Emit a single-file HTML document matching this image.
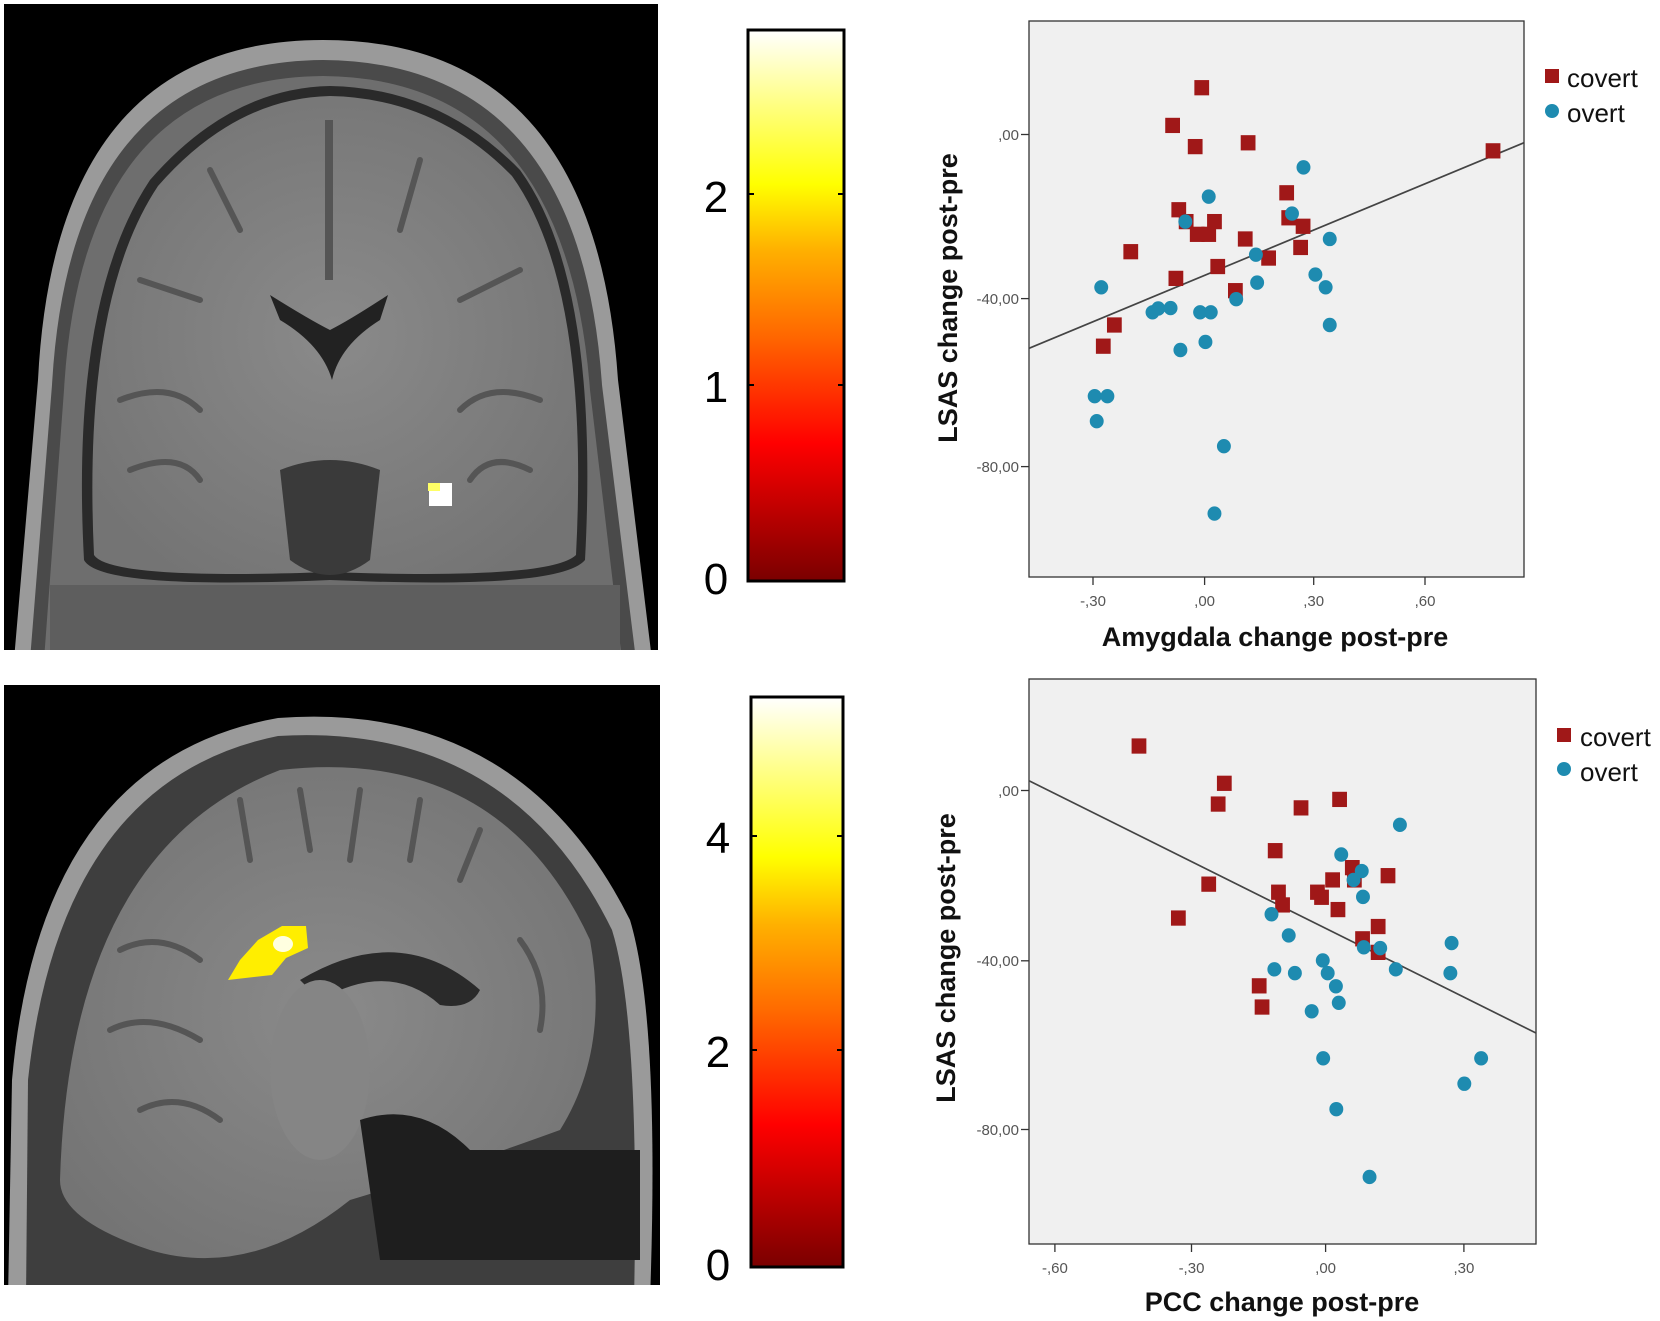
<!DOCTYPE html>
<html><head><meta charset="utf-8"><style>
html,body{margin:0;padding:0;background:#fff;}
svg{display:block;}
text{font-family:"Liberation Sans",sans-serif;}
</style></head><body>
<svg width="1660" height="1321" viewBox="0 0 1660 1321" xmlns="http://www.w3.org/2000/svg">
<defs>
<linearGradient id="cb" x1="0" y1="1" x2="0" y2="0">
<stop offset="0" stop-color="#7a0000"/>
<stop offset="0.25" stop-color="#ff0000"/>
<stop offset="0.45" stop-color="#ff6a00"/>
<stop offset="0.6" stop-color="#ffb000"/>
<stop offset="0.72" stop-color="#ffff00"/>
<stop offset="0.88" stop-color="#ffff90"/>
<stop offset="1" stop-color="#ffffff"/>
</linearGradient>
<radialGradient id="br" cx="0.5" cy="0.5" r="0.6">
<stop offset="0" stop-color="#8a8a8a"/>
<stop offset="1" stop-color="#747474"/>
</radialGradient>
<clipPath id="c1"><rect x="4" y="4" width="654" height="646"/></clipPath>
<clipPath id="c2"><rect x="4" y="685" width="656" height="600"/></clipPath>
</defs>

<!-- Coronal brain -->
<rect x="4" y="4" width="654" height="646" fill="#000"/>
<g clip-path="url(#c1)">
<path d="M14 660 L38 380 Q55 40 323 40 Q595 40 618 380 L652 660 Z" fill="#9a9a9a"/>
<path d="M30 660 L52 385 Q70 62 323 60 Q580 62 602 385 L636 660 Z" fill="#4a4a4a"/>
<path d="M44 660 L64 390 Q82 78 323 76 Q566 78 590 390 L622 660 Z" fill="#6e6e6e"/>
<path d="M84 560 Q70 300 150 180 Q230 88 330 86 Q440 88 520 170 Q600 280 585 560 Q560 590 330 580 Q100 590 84 560 Z" fill="#2a2a2a"/>
<path d="M94 555 Q82 300 158 186 Q235 98 330 96 Q436 98 512 176 Q590 285 576 555 Q550 580 330 572 Q110 580 94 555 Z" fill="url(#br)"/>
<g stroke="#555" stroke-width="6" fill="none" stroke-linecap="round">
<path d="M210 170 L240 230"/><path d="M420 160 L400 230"/><path d="M140 280 L200 300"/><path d="M520 270 L460 300"/>
<path d="M120 400 Q170 380 200 410"/><path d="M540 400 Q490 380 460 410"/><path d="M130 470 Q180 450 200 480"/><path d="M530 470 Q490 450 470 480"/>
</g>
<rect x="50" y="585" width="570" height="70" fill="#5e5e5e"/>
<path d="M270 295 Q310 320 330 330 Q350 320 388 295 L380 320 Q340 345 332 380 Q322 345 280 320 Z" fill="#222"/>
<rect x="325" y="120" width="8" height="160" fill="#555"/>
<path d="M280 470 Q330 450 380 470 L370 560 Q330 590 290 560 Z" fill="#3a3a3a"/>
<rect x="429" y="483" width="23" height="23" fill="#fff"/>
<rect x="428" y="483" width="12" height="8" fill="#ffff66"/>
</g>

<!-- Sagittal brain -->
<rect x="4" y="685" width="656" height="600" fill="#000"/>
<g clip-path="url(#c2)">
<path d="M8 1300 L12 1080 Q40 760 278 718 Q520 700 630 920 Q660 1020 650 1300 Z" fill="#9a9a9a"/>
<path d="M26 1300 L28 1080 Q60 780 278 736 Q510 722 612 930 Q640 1020 634 1300 Z" fill="#3e3e3e"/>
<path d="M60 1180 Q70 850 280 770 Q500 745 590 940 Q610 1050 560 1130 Q450 1170 350 1200 Q250 1280 150 1250 Q60 1220 60 1180 Z" fill="url(#br)"/>
<g stroke="#555" stroke-width="6" fill="none" stroke-linecap="round">
<path d="M240 800 L250 860"/><path d="M300 790 L310 850"/><path d="M360 790 L350 860"/><path d="M420 800 L410 860"/><path d="M480 830 L460 880"/>
<path d="M120 950 Q160 930 200 960"/><path d="M110 1030 Q150 1010 200 1040"/><path d="M140 1110 Q180 1090 220 1120"/><path d="M520 940 Q550 980 540 1030"/>
</g>
<path d="M300 980 Q400 920 480 990 Q470 1010 440 1005 Q390 960 320 1000 Z" fill="#2a2a2a"/>
<ellipse cx="320" cy="1070" rx="50" ry="90" fill="#858585"/>
<path d="M360 1120 Q420 1100 470 1150 L640 1150 L640 1260 L380 1260 Z" fill="#1e1e1e"/>
<path d="M240 960 L258 940 L282 926 L306 926 L308 948 L286 958 L272 975 L228 980 Z" fill="#ffee00"/>
<ellipse cx="283" cy="944" rx="10" ry="8" fill="#ffffe0"/>
</g>

<!-- colorbar 1 -->
<rect x="748" y="30" width="96" height="551" fill="url(#cb)" stroke="#000" stroke-width="3"/>
<g stroke="#000" stroke-width="2">
<line x1="748" y1="194" x2="754" y2="194"/><line x1="838" y1="194" x2="844" y2="194"/>
<line x1="748" y1="385" x2="754" y2="385"/><line x1="838" y1="385" x2="844" y2="385"/>
</g>
<g font-size="44" fill="#000" text-anchor="middle">
<text x="716" y="212">2</text><text x="716" y="402">1</text><text x="716" y="594">0</text>
</g>
<!-- colorbar 2 -->
<rect x="751" y="697" width="92" height="570" fill="url(#cb)" stroke="#000" stroke-width="3"/>
<g stroke="#000" stroke-width="2">
<line x1="751" y1="836" x2="757" y2="836"/><line x1="837" y1="836" x2="843" y2="836"/>
<line x1="751" y1="1050" x2="757" y2="1050"/><line x1="837" y1="1050" x2="843" y2="1050"/>
</g>
<g font-size="44" fill="#000" text-anchor="middle">
<text x="718" y="853">4</text><text x="718" y="1067">2</text><text x="718" y="1280">0</text>
</g>

<!-- Plot 1 -->
<rect x="1029" y="21" width="495" height="556" fill="#f0f0f0" stroke="#333" stroke-width="1.3"/>
<g stroke="#333" stroke-width="1.3">
<line x1="1021" y1="134.5" x2="1029" y2="134.5"/><line x1="1021" y1="298.6" x2="1029" y2="298.6"/><line x1="1021" y1="466.6" x2="1029" y2="466.6"/>
<line x1="1093" y1="577" x2="1093" y2="585"/><line x1="1204.6" y1="577" x2="1204.6" y2="585"/><line x1="1313.7" y1="577" x2="1313.7" y2="585"/><line x1="1425" y1="577" x2="1425" y2="585"/>
</g>
<g font-size="15" fill="#555" text-anchor="end">
<text x="1019" y="140">,00</text><text x="1019" y="304">-40,00</text><text x="1019" y="472">-80,00</text>
</g>
<g font-size="15" fill="#555" text-anchor="middle">
<text x="1093" y="606">-,30</text><text x="1204.6" y="606">,00</text><text x="1313.7" y="606">,30</text><text x="1425" y="606">,60</text>
</g>
<text x="1275" y="646" font-size="27" font-weight="bold" text-anchor="middle" fill="#111">Amygdala change post-pre</text>
<text transform="translate(957,298) rotate(-90)" font-size="27" font-weight="bold" text-anchor="middle" fill="#111">LSAS change post-pre</text>
<g transform="translate(1020,0) scale(0.41026,0.42373)">
<line x1="22" y1="822" x2="1228" y2="337" stroke="#444" stroke-width="4"/>
<g fill="#a01818">
<rect x="425" y="189" width="36" height="36"/><rect x="354" y="278" width="36" height="36"/><rect x="409" y="328" width="36" height="36"/><rect x="538" y="319" width="36" height="36"/><rect x="1135" y="338" width="36" height="36"/><rect x="632" y="437" width="36" height="36"/><rect x="369" y="477" width="36" height="36"/><rect x="387" y="505" width="36" height="36"/><rect x="456" y="505" width="36" height="36"/><rect x="414" y="535" width="36" height="36"/><rect x="442" y="535" width="36" height="36"/><rect x="637" y="496" width="36" height="36"/><rect x="672" y="516" width="36" height="36"/><rect x="531" y="546" width="36" height="36"/><rect x="666" y="566" width="36" height="36"/><rect x="252" y="576" width="36" height="36"/><rect x="588" y="591" width="36" height="36"/><rect x="464" y="611" width="36" height="36"/><rect x="362" y="639" width="36" height="36"/><rect x="507" y="668" width="36" height="36"/><rect x="212" y="749" width="36" height="36"/><rect x="185" y="799" width="36" height="36"/>
</g>
<g fill="#1e8bb0">
<circle cx="691" cy="395" r="17"/><circle cx="460" cy="464" r="17"/><circle cx="663" cy="504" r="17"/><circle cx="403" cy="523" r="17"/><circle cx="755" cy="564" r="17"/><circle cx="575" cy="601" r="17"/><circle cx="578" cy="667" r="17"/><circle cx="720" cy="648" r="17"/><circle cx="745" cy="678" r="17"/><circle cx="198" cy="678" r="17"/><circle cx="527" cy="706" r="17"/><circle cx="323" cy="737" r="17"/><circle cx="337" cy="728" r="17"/><circle cx="367" cy="727" r="17"/><circle cx="439" cy="737" r="17"/><circle cx="465" cy="737" r="17"/><circle cx="452" cy="807" r="17"/><circle cx="391" cy="826" r="17"/><circle cx="755" cy="767" r="17"/><circle cx="182" cy="935" r="17"/><circle cx="213" cy="935" r="17"/><circle cx="187" cy="994" r="17"/><circle cx="497" cy="1053" r="17"/><circle cx="474" cy="1212" r="17"/>
</g>
</g>
<rect x="1545" y="69" width="14" height="14" fill="#a01818"/>
<circle cx="1552" cy="111" r="7" fill="#1e8bb0"/>
<g font-size="26" fill="#111"><text x="1567" y="87">covert</text><text x="1567" y="122">overt</text></g>

<!-- Plot 2 -->
<rect x="1029" y="679" width="507" height="565" fill="#f0f0f0" stroke="#333" stroke-width="1.3"/>
<g stroke="#333" stroke-width="1.3">
<line x1="1021" y1="790.5" x2="1029" y2="790.5"/><line x1="1021" y1="960.8" x2="1029" y2="960.8"/><line x1="1021" y1="1129.5" x2="1029" y2="1129.5"/>
<line x1="1054.9" y1="1244" x2="1054.9" y2="1252"/><line x1="1191.5" y1="1244" x2="1191.5" y2="1252"/><line x1="1325.6" y1="1244" x2="1325.6" y2="1252"/><line x1="1463.9" y1="1244" x2="1463.9" y2="1252"/>
</g>
<g font-size="15" fill="#555" text-anchor="end">
<text x="1019" y="796">,00</text><text x="1019" y="966">-40,00</text><text x="1019" y="1135">-80,00</text>
</g>
<g font-size="15" fill="#555" text-anchor="middle">
<text x="1054.9" y="1273">-,60</text><text x="1191.5" y="1273">-,30</text><text x="1325.6" y="1273">,00</text><text x="1463.9" y="1273">,30</text>
</g>
<text x="1282" y="1311" font-size="27" font-weight="bold" text-anchor="middle" fill="#111">PCC change post-pre</text>
<text transform="translate(955,958) rotate(-90)" font-size="27" font-weight="bold" text-anchor="middle" fill="#111">LSAS change post-pre</text>
<g transform="translate(1020,660) scale(0.41026,0.42373)">
<line x1="22" y1="285" x2="1257" y2="880" stroke="#444" stroke-width="4"/>
<g fill="#a01818">
<rect x="272" y="185" width="36" height="36"/><rect x="480" y="273" width="36" height="36"/><rect x="465" y="322" width="36" height="36"/><rect x="667" y="331" width="36" height="36"/><rect x="761" y="311" width="36" height="36"/><rect x="604" y="432" width="36" height="36"/><rect x="442" y="511" width="36" height="36"/><rect x="792" y="472" width="36" height="36"/><rect x="744" y="501" width="36" height="36"/><rect x="879" y="491" width="36" height="36"/><rect x="797" y="501" width="36" height="36"/><rect x="612" y="530" width="36" height="36"/><rect x="707" y="530" width="36" height="36"/><rect x="717" y="542" width="36" height="36"/><rect x="622" y="560" width="36" height="36"/><rect x="757" y="571" width="36" height="36"/><rect x="368" y="591" width="36" height="36"/><rect x="855" y="611" width="36" height="36"/><rect x="817" y="640" width="36" height="36"/><rect x="855" y="672" width="36" height="36"/><rect x="565" y="751" width="36" height="36"/><rect x="572" y="801" width="36" height="36"/>
</g>
<g fill="#1e8bb0">
<circle cx="926" cy="389" r="17"/><circle cx="783" cy="459" r="17"/><circle cx="833" cy="498" r="17"/><circle cx="813" cy="519" r="17"/><circle cx="836" cy="559" r="17"/><circle cx="613" cy="600" r="17"/><circle cx="655" cy="650" r="17"/><circle cx="838" cy="678" r="17"/><circle cx="878" cy="680" r="17"/><circle cx="1052" cy="668" r="17"/><circle cx="738" cy="709" r="17"/><circle cx="620" cy="730" r="17"/><circle cx="670" cy="739" r="17"/><circle cx="750" cy="739" r="17"/><circle cx="916" cy="730" r="17"/><circle cx="1049" cy="739" r="17"/><circle cx="770" cy="770" r="17"/><circle cx="777" cy="809" r="17"/><circle cx="711" cy="829" r="17"/><circle cx="739" cy="940" r="17"/><circle cx="1124" cy="940" r="17"/><circle cx="1083" cy="1000" r="17"/><circle cx="771" cy="1060" r="17"/><circle cx="852" cy="1220" r="17"/>
</g>
</g>
<rect x="1557" y="728" width="14" height="14" fill="#a01818"/>
<circle cx="1564" cy="769" r="7" fill="#1e8bb0"/>
<g font-size="26" fill="#111"><text x="1580" y="746">covert</text><text x="1580" y="781">overt</text></g>
</svg>
</body></html>
